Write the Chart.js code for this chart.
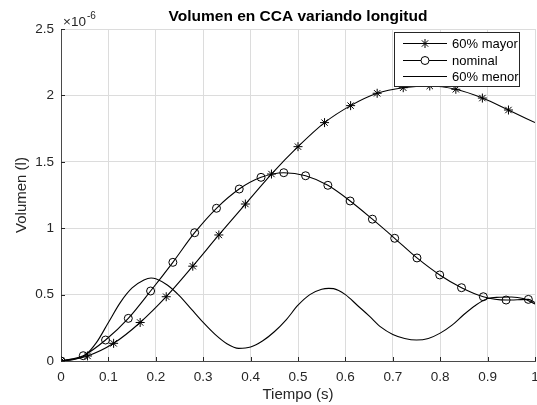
<!DOCTYPE html>
<html>
<head>
<meta charset="utf-8">
<script src="https://cdn.jsdelivr.net/npm/chart.js@4/dist/chart.umd.min.js"></script>
<style>
  body { margin: 0; background: #fff; }
  canvas { display: block; }
</style>
</head>
<body>
<canvas id="volChart" width="537" height="405"></canvas>
<script>
// Data (volumes in units of 1e-6 l, time in s)
const tMayor = [0, 0.056, 0.111, 0.167, 0.222, 0.278, 0.333, 0.389, 0.444, 0.5, 0.556, 0.611, 0.667, 0.722, 0.778, 0.833, 0.889, 0.944, 1.0];
const volMayor = [0, 0.038, 0.133, 0.29, 0.484, 0.714, 0.949, 1.182, 1.408, 1.614, 1.795, 1.923, 2.016, 2.058, 2.071, 2.046, 1.98, 1.89, 1.795];

const tNominal = [0, 0.047, 0.094, 0.142, 0.189, 0.236, 0.282, 0.328, 0.376, 0.422, 0.47, 0.516, 0.563, 0.61, 0.657, 0.704, 0.751, 0.799, 0.845, 0.891, 0.939, 0.986, 1.0];
const volNominal = [0, 0.04, 0.158, 0.321, 0.527, 0.743, 0.966, 1.15, 1.295, 1.383, 1.418, 1.395, 1.323, 1.205, 1.068, 0.924, 0.776, 0.648, 0.552, 0.484, 0.459, 0.464, 0.44];

const tMenor = [0, 0.025, 0.05, 0.075, 0.1, 0.125, 0.15, 0.175, 0.19, 0.2, 0.225, 0.25, 0.275, 0.3, 0.325, 0.35, 0.375, 0.4, 0.425, 0.45, 0.475, 0.5, 0.525, 0.55, 0.565, 0.575, 0.6, 0.625, 0.65, 0.675, 0.7, 0.725, 0.75, 0.775, 0.8, 0.825, 0.85, 0.875, 0.9, 0.925, 0.95, 0.975, 1.0];
const volMenor = [0, 0.01, 0.04, 0.14, 0.29, 0.44, 0.55, 0.61, 0.625, 0.62, 0.57, 0.49, 0.39, 0.29, 0.2, 0.13, 0.095, 0.105, 0.15, 0.22, 0.31, 0.42, 0.5, 0.54, 0.547, 0.545, 0.5, 0.42, 0.34, 0.255, 0.2, 0.17, 0.158, 0.17, 0.21, 0.27, 0.35, 0.42, 0.47, 0.48, 0.482, 0.47, 0.43];

const seriesNames = ['60% mayor', 'nominal', '60% menor'];
const xTicks = [0, 0.1, 0.2, 0.3, 0.4, 0.5, 0.6, 0.7, 0.8, 0.9, 1];
const yTicks = [0, 0.5, 1, 1.5, 2, 2.5];

const FONT = "'Liberation Sans', Arial, Helvetica, sans-serif";
const INK = '#262626';
Chart.defaults.font.family = FONT;

const toPoints = (xs, ys) => xs.map((x, i) => ({ x: x, y: ys[i] }));

// no marker on the final sample of the marked series
const markerAt = (n, r) => (ctx) => ctx.dataIndex === n - 1 ? 0 : r;

// MATLAB-style extras: title, exponent, inward ticks, legend box
const matlabDecor = {
    id: 'matlabDecor',
    afterDraw(chart) {
        const ctx = chart.ctx;
        const area = chart.chartArea;
        const xs = chart.scales.x;
        const ys = chart.scales.y;
        ctx.save();

        // inward tick marks
        ctx.strokeStyle = INK;
        ctx.lineWidth = 1;
        ctx.beginPath();
        xTicks.forEach(v => {
            const px = Math.round(xs.getPixelForValue(v)) + 0.5;
            ctx.moveTo(px, area.bottom);
            ctx.lineTo(px, area.bottom - 4);
        });
        yTicks.forEach(v => {
            const py = Math.round(ys.getPixelForValue(v)) + 0.5;
            ctx.moveTo(area.left, py);
            ctx.lineTo(area.left + 4, py);
        });
        ctx.stroke();

        // title
        ctx.fillStyle = '#000';
        ctx.font = 'bold 15.5px ' + FONT;
        ctx.textAlign = 'center';
        ctx.textBaseline = 'middle';
        ctx.fillText('Volumen en CCA variando longitud', (area.left + area.right) / 2, 17);

        // exponent label
        ctx.fillStyle = INK;
        ctx.textAlign = 'left';
        ctx.textBaseline = 'alphabetic';
        ctx.font = '13.5px ' + FONT;
        ctx.fillText('\u00d710', area.left + 2, 26);
        ctx.font = '10px ' + FONT;
        ctx.fillText('-6', area.left + 26, 19);

        // legend
        const lx = 394, ly = 32, lw = 125, lh = 54;
        ctx.fillStyle = '#fff';
        ctx.fillRect(lx, ly, lw, lh);
        ctx.strokeStyle = INK;
        ctx.strokeRect(lx + 0.5, ly + 0.5, lw, lh);
        const rows = [43, 60, 76];
        ctx.font = '13px ' + FONT;
        ctx.textBaseline = 'middle';
        rows.forEach((ry, i) => {
            ctx.strokeStyle = '#000';
            ctx.beginPath();
            ctx.moveTo(403, ry + 0.5);
            ctx.lineTo(447, ry + 0.5);
            ctx.stroke();
            if (i === 0) {
                Chart.helpers.drawPoint(ctx, { pointStyle: 'star', radius: 4.5, borderWidth: 1 }, 425, ry + 0.5);
            } else if (i === 1) {
                ctx.fillStyle = '#fff';
                ctx.beginPath();
                ctx.arc(425, ry + 0.5, 4, 0, Math.PI * 2);
                ctx.fill();
                ctx.stroke();
            }
            ctx.fillStyle = '#000';
            ctx.fillText(seriesNames[i], 452, ry + 1);
        });

        ctx.restore();
    }
};

const lineStyle = {
    borderColor: '#000',
    borderWidth: 1.1,
    pointBorderColor: '#000',
    pointBackgroundColor: 'rgba(0,0,0,0)',
    pointBorderWidth: 1,
    cubicInterpolationMode: 'monotone',
    fill: false
};

new Chart(document.getElementById('volChart'), {
    type: 'line',
    data: {
        datasets: [
            Object.assign({}, lineStyle, {
                label: seriesNames[0],
                data: toPoints(tMayor, volMayor),
                pointStyle: 'star',
                pointRadius: markerAt(tMayor.length, 4.5)
            }),
            Object.assign({}, lineStyle, {
                label: seriesNames[1],
                data: toPoints(tNominal, volNominal),
                pointStyle: 'circle',
                pointRadius: markerAt(tNominal.length, 4)
            }),
            Object.assign({}, lineStyle, {
                label: seriesNames[2],
                data: toPoints(tMenor, volMenor),
                pointRadius: 0
            })
        ]
    },
    options: {
        responsive: false,
        animation: false,
        layout: { autoPadding: false, padding: { top: 29, right: 2, left: 0, bottom: 0 } },
        plugins: {
            legend: { display: false },
            title: { display: false },
            tooltip: { enabled: false }
        },
        scales: {
            x: {
                type: 'linear',
                min: 0,
                max: 1,
                afterFit: (scale) => {
                    scale.height = 44;
                    scale.paddingLeft = 0;
                    scale.paddingRight = 0;
                },
                afterBuildTicks: (scale) => { scale.ticks = xTicks.map(v => ({ value: v })); },
                ticks: {
                    color: INK,
                    font: { size: 13.5 },
                    padding: 8,
                    maxRotation: 0,
                    callback: (v) => String(Math.round(v * 10) / 10)
                },
                grid: { color: '#dcdcdc', drawTicks: false },
                border: { color: '#4a4a4a', width: 1 },
                title: {
                    display: true,
                    text: 'Tiempo (s)',
                    color: INK,
                    font: { size: 15 },
                    padding: { top: 0, bottom: 1 }
                }
            },
            y: {
                min: 0,
                max: 2.5,
                afterFit: (scale) => {
                    scale.width = 61;
                    scale.paddingTop = 0;
                    scale.paddingBottom = 0;
                },
                afterBuildTicks: (scale) => { scale.ticks = yTicks.map(v => ({ value: v })); },
                ticks: {
                    color: INK,
                    font: { size: 13.5 },
                    padding: 7,
                    callback: (v) => String(v)
                },
                grid: { color: '#dcdcdc', drawTicks: false },
                border: { color: '#4a4a4a', width: 1 },
                title: {
                    display: true,
                    text: 'Volumen (l)',
                    color: INK,
                    font: { size: 15 },
                    padding: { top: 13, bottom: 0 }
                }
            }
        }
    },
    plugins: [matlabDecor]
});
</script>
</body>
</html>
